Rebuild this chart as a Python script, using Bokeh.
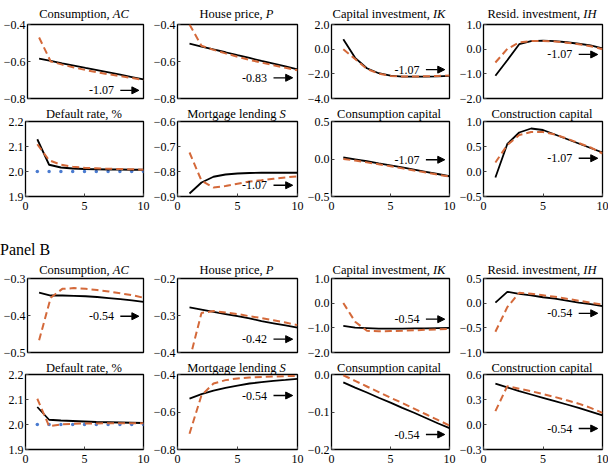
from bokeh.plotting import figure
from bokeh.models import (Range1d, FixedTicker, CustomJSTickFormatter, Label, Arrow,
                          NormalHead, Div)
from bokeh.layouts import column, row
from bokeh.embed import file_html
from bokeh.resources import INLINE

# ---------------- data ----------------
periods = [1, 2, 3, 4, 5, 6, 7, 8, 9, 10]

# Panel A
a_ac_solid = [-0.585, -0.597, -0.610, -0.622, -0.635, -0.647, -0.659, -0.671, -0.684, -0.697]
a_ac_dash = [-0.470, -0.600, -0.617, -0.632, -0.646, -0.658, -0.669, -0.679, -0.689, -0.700]
a_p_solid = [-0.504, -0.519, -0.535, -0.550, -0.566, -0.581, -0.597, -0.612, -0.627, -0.642]
a_p_dash = [-0.400, -0.515, -0.537, -0.556, -0.574, -0.591, -0.606, -0.620, -0.634, -0.647]
a_ik_solid = [0.80, -0.70, -1.55, -1.95, -2.15, -2.22, -2.23, -2.22, -2.20, -2.17]
a_ik_dash = [0.00, -0.80, -1.60, -1.98, -2.17, -2.22, -2.22, -2.20, -2.17, -2.13]
a_ih_solid = [-1.08, -0.45, 0.20, 0.33, 0.35, 0.33, 0.28, 0.22, 0.15, 0.03]
a_ih_dash = [-0.54, 0.01, 0.27, 0.33, 0.33, 0.31, 0.26, 0.20, 0.12, 0.00]
a_dr_solid = [2.129, 2.027, 2.016, 2.012, 2.010, 2.009, 2.008, 2.008, 2.007, 2.007]
a_dr_dash = [2.109, 2.045, 2.027, 2.019, 2.015, 2.013, 2.011, 2.010, 2.009, 2.007]
a_dr_ss = [2.0, 2.0, 2.0, 2.0, 2.0, 2.0, 2.0, 2.0, 2.0, 2.0]
a_s_solid = [-0.888, -0.844, -0.821, -0.812, -0.808, -0.806, -0.805, -0.805, -0.805, -0.805]
a_s_dash = [-0.724, -0.837, -0.864, -0.858, -0.849, -0.840, -0.835, -0.829, -0.824, -0.819]
a_cc_solid = [0.020, -0.005, -0.030, -0.058, -0.085, -0.113, -0.142, -0.171, -0.200, -0.230]
a_cc_dash = [0.000, -0.020, -0.045, -0.070, -0.097, -0.125, -0.153, -0.180, -0.208, -0.235]
a_kc_solid = [-0.12, 0.55, 0.78, 0.86, 0.83, 0.74, 0.65, 0.56, 0.47, 0.38]
a_kc_dash = [0.18, 0.53, 0.73, 0.79, 0.79, 0.74, 0.66, 0.57, 0.48, 0.36]

# Panel B
b_ac_solid = [-0.338, -0.346, -0.346, -0.347, -0.348, -0.350, -0.353, -0.356, -0.359, -0.363]
b_ac_dash = [-0.467, -0.352, -0.328, -0.326, -0.328, -0.331, -0.335, -0.340, -0.345, -0.352]
b_p_solid = [-0.278, -0.284, -0.290, -0.296, -0.302, -0.308, -0.315, -0.321, -0.327, -0.333]
b_p_dash = [-0.420, -0.293, -0.288, -0.292, -0.296, -0.302, -0.307, -0.313, -0.319, -0.326]
b_ik_solid = [-0.92, -0.99, -1.01, -1.03, -1.03, -1.03, -1.02, -1.02, -1.01, -1.00]
b_ik_dash = [0.01, -0.75, -1.12, -1.14, -1.13, -1.12, -1.10, -1.08, -1.06, -1.04]
b_ih_solid = [0.01, 0.23, 0.19, 0.16, 0.12, 0.09, 0.05, 0.01, -0.02, -0.06]
b_ih_dash = [-0.58, -0.08, 0.21, 0.19, 0.16, 0.13, 0.09, 0.05, 0.01, -0.03]
b_dr_solid = [2.070, 2.019, 2.016, 2.014, 2.012, 2.010, 2.009, 2.008, 2.007, 2.006]
b_dr_dash = [2.103, 1.993, 2.000, 2.003, 2.004, 2.004, 2.005, 2.005, 2.005, 2.005]
b_dr_ss = [2.0, 2.0, 2.0, 2.0, 2.0, 2.0, 2.0, 2.0, 2.0, 2.0]
b_s_solid = [-0.529, -0.505, -0.486, -0.471, -0.459, -0.448, -0.441, -0.434, -0.429, -0.423]
b_s_dash = [-0.716, -0.511, -0.448, -0.430, -0.421, -0.416, -0.413, -0.411, -0.409, -0.407]
b_cc_solid = [-0.021, -0.035, -0.048, -0.062, -0.075, -0.089, -0.102, -0.116, -0.130, -0.143]
b_cc_dash = [-0.002, -0.017, -0.032, -0.047, -0.062, -0.076, -0.091, -0.106, -0.121, -0.136]
b_kc_solid = [0.49, 0.445, 0.40, 0.36, 0.32, 0.28, 0.24, 0.20, 0.155, 0.11]
b_kc_dash = [0.16, 0.46, 0.43, 0.40, 0.365, 0.33, 0.29, 0.25, 0.20, 0.14]

# titles: (upright part, italic part)
titles_top = [("Consumption, ", "AC"), ("House price, ", "P"),
              ("Capital investment, ", "IK"), ("Resid. investment, ", "IH")]
titles_bottom = [("Default rate, %", ""), ("Mortgage lending ", "S"),
                 ("Consumption capital", ""), ("Construction capital", "")]
panel_b_label = "Panel B"

# y axis ranges / ticks
a_ranges = [(-0.8, -0.4), (-0.8, -0.4), (-4.0, 2.0), (-2.0, 1.0),
            (1.9, 2.2), (-0.9, -0.6), (-0.5, 0.5), (-0.5, 1.0)]
a_ticks = [[-0.8, -0.6, -0.4], [-0.8, -0.6, -0.4], [-4, -2, 0, 2], [-2, -1, 0, 1],
           [1.9, 2.0, 2.1, 2.2], [-0.9, -0.8, -0.7, -0.6], [-0.5, 0, 0.5], [-0.5, 0, 0.5, 1.0]]
b_ranges = [(-0.5, -0.3), (-0.4, -0.2), (-2.0, 1.0), (-1.0, 0.5),
            (1.9, 2.2), (-0.8, -0.4), (-0.2, 0.0), (-0.3, 0.6)]
b_ticks = [[-0.5, -0.4, -0.3], [-0.4, -0.3, -0.2], [-2, -1, 0, 1], [-1.0, -0.5, 0, 0.5],
           [1.9, 2.0, 2.1, 2.2], [-0.8, -0.6, -0.4], [-0.2, -0.1, 0.0], [-0.3, 0, 0.3, 0.6]]
x_ticks = [0, 5, 10]

# annotation texts
a_notes = ["-1.07", "-0.83", "-1.07", "-1.07", None, "-1.07", "-1.07", "-1.07"]
b_notes = ["-0.54", "-0.42", "-0.54", "-0.54", None, "-0.54", "-0.54", "-0.54"]

a_solid = [a_ac_solid, a_p_solid, a_ik_solid, a_ih_solid, a_dr_solid, a_s_solid, a_cc_solid, a_kc_solid]
a_dash = [a_ac_dash, a_p_dash, a_ik_dash, a_ih_dash, a_dr_dash, a_s_dash, a_cc_dash, a_kc_dash]
b_solid = [b_ac_solid, b_p_solid, b_ik_solid, b_ih_solid, b_dr_solid, b_s_solid, b_cc_solid, b_kc_solid]
b_dash = [b_ac_dash, b_p_dash, b_ik_dash, b_ih_dash, b_dr_dash, b_s_dash, b_cc_dash, b_kc_dash]

# ---------------- layout / style ----------------
FONT = "Liberation Serif, serif"
FS = 12
TFS = 12.5
ORANGE = "#d4693a"
BLUE = "#4a7bd0"

col_w = [150, 154, 152, 152]
col_bl = [25, 26, 25, 26]
col_br = [7, 7, 7, 6]
# (block height, top border, bottom border, show x labels)
row_specs = [(106, 24, 8, False), (110, 15, 20, True), (98, 16, 8, False), (107, 14, 18, True)]
# annotation vertical position (fraction of axis height)
a_note_pos = [0.11, 0.28, 0.39, 0.595, None, 0.15, 0.49, 0.51]
b_note_pos = [0.49, 0.18, 0.45, 0.53, None, 0.72, 0.20, 0.28]

fmt = CustomJSTickFormatter(code="""
    if (Math.abs(tick) < 1e-9) { return '0.0'; }
    return (tick < 0 ? '\\u2212' : '') + Math.abs(tick).toFixed(1);
""")


def title_div(ci, title, bt):
    up, it = title
    target = bt - 5.0                       # baseline 5px above the frame
    lh = 2.0 * (target - 0.891 * TFS) + 1.107 * TFS
    html = ('<div style="box-sizing:border-box; width:%dpx; text-align:center; '
            'padding-left:%dpx; padding-right:%dpx; '
            "font-family:'Liberation Serif', serif; font-size:%spx; line-height:%.2fpx; "
            'color:black; white-space:nowrap;">%s<i>%s</i></div>'
            % (col_w[ci], col_bl[ci], col_br[ci], TFS, lh, up, it))
    return Div(text=html, width=col_w[ci], height=bt, margin=(0, 0, -bt, 0))


def make_panel(ci, rspec, yr, yt, title, solid, dash, ss, note, note_pos):
    height, bt, bb, showx = rspec
    lo, hi = yr
    p = figure(width=col_w[ci], height=height, x_range=Range1d(0, 10),
               y_range=Range1d(lo, hi), toolbar_location=None, output_backend="svg", title=None,
               min_border_left=col_bl[ci], min_border_right=col_br[ci],
               min_border_top=bt, min_border_bottom=bb, margin=0)
    p.grid.visible = False
    p.outline_line_color = "black"
    p.outline_line_width = 1.3
    p.outline_line_alpha = 1.0
    p.background_fill_color = "white"
    p.border_fill_color = None

    for ax in p.xaxis:
        ax.ticker = FixedTicker(ticks=x_ticks, minor_ticks=[])
        ax.major_label_text_font = FONT
        ax.major_label_text_font_size = f"{FS}px"
        ax.major_label_text_color = "black"
        ax.major_label_standoff = 5
        ax.visible = showx
    for ax in p.yaxis:
        ax.ticker = FixedTicker(ticks=yt, minor_ticks=[])
        ax.formatter = fmt
        ax.major_label_text_font = FONT
        ax.major_label_text_font_size = f"{FS}px"
        ax.major_label_text_color = "black"
        ax.major_label_standoff = 2
    for ax in list(p.xaxis) + list(p.yaxis):
        ax.axis_line_color = None
        ax.major_tick_in = 3
        ax.major_tick_out = 0
        ax.major_tick_line_color = "#444444"
        ax.minor_tick_line_color = None

    if ss is not None:
        p.scatter(periods, ss, size=3.5, color=BLUE, line_color=None)
    p.line(periods, solid, line_color="black", line_width=1.8)
    p.line(periods, dash, line_color=ORANGE, line_width=2.0, line_dash="7 4")

    if note is not None:
        ny = lo + note_pos * (hi - lo)
        p.add_layout(Label(x=7.45, y=ny, text=note, text_align="right", text_baseline="middle",
                           text_font=FONT, text_font_size=f"{FS}px", text_color="black"))
        p.add_layout(Arrow(end=NormalHead(size=7, fill_color="black", line_color="black"),
                           x_start=8.0, y_start=ny, x_end=9.6, y_end=ny,
                           line_color="black", line_width=1.3))
    return column(title_div(ci, title, bt), p, spacing=0, margin=0)


rows = []
for panel in range(2):
    rng = a_ranges if panel == 0 else b_ranges
    tks = a_ticks if panel == 0 else b_ticks
    sol = a_solid if panel == 0 else b_solid
    dsh = a_dash if panel == 0 else b_dash
    nts = a_notes if panel == 0 else b_notes
    npos = a_note_pos if panel == 0 else b_note_pos
    ss_series = a_dr_ss if panel == 0 else b_dr_ss
    for r in range(2):
        cols = []
        for c in range(4):
            k = r * 4 + c
            title = titles_top[c] if r == 0 else titles_bottom[c]
            cols.append(make_panel(c, row_specs[panel * 2 + r], rng[k], tks[k], title,
                                   sol[k], dsh[k], ss_series if k == 4 else None,
                                   nts[k], npos[k]))
        rows.append(row(*cols, spacing=0, margin=0))
    if panel == 0:
        rows.append(Div(text='<div style="font-family:\'Liberation Serif\', serif; font-size:16px; '
                             'line-height:20px; padding-top:24px; color:black; '
                             'white-space:nowrap;">%s</div>' % panel_b_label,
                        width=608, height=46, margin=0))

layout = column(*rows, spacing=0, margin=0)
open("out.html", "w").write(file_html(layout, INLINE))
